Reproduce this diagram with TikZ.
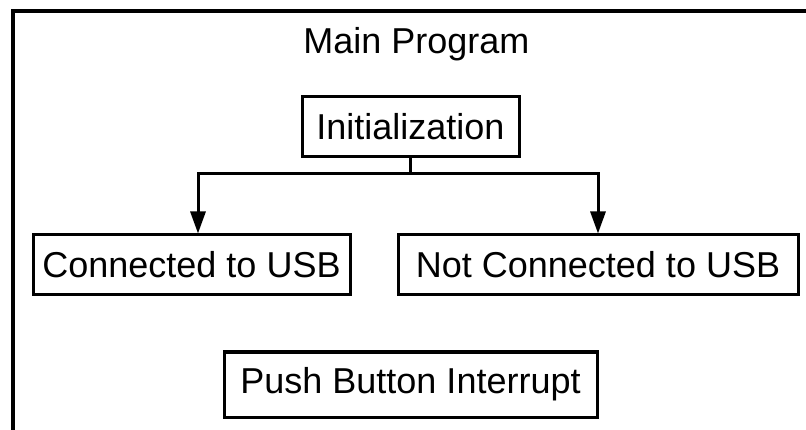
\documentclass[tikz,border=0pt]{standalone}
\usepackage{fontspec}
\setmainfont{Liberation Sans}
\usetikzlibrary{arrows.meta}
\begin{document}
\begin{tikzpicture}[x=1pt,y=-1pt,
  blk/.style={draw,line width=3pt,inner sep=0pt,minimum height=60pt,font=\fontsize{36}{40}\selectfont},
  conn/.style={line width=3pt},
  arr/.style={conn,-{Triangle[length=22pt,width=15pt]}}]
\useasboundingbox (0,0) rectangle (806,430);
\draw[line width=3.5pt] (13,430) -- (13,11) -- (806,11);
\node[font=\fontsize{36}{40}\selectfont] (title) at (416.5,44) {Main Program};
\node[blk,minimum width=217pt] (init) at (410.5,127) {Initialization};
\node[blk,minimum width=317pt] (usb) at (191.5,265) {Connected to USB};
\node[blk,minimum width=400pt] (nousb) at (598,265) {Not Connected to USB};
\node[blk,minimum width=373pt,minimum height=65pt] (push) at (410.5,384.5) {Push Button Interrupt};
\coordinate (jl) at (198,174);
\coordinate (jr) at (598,174);
\draw[conn] (init.south) -- (init.south |- jl);
\draw[arr] (init.south |- jl) -- (jl) -- (jl |- usb.north);
\draw[arr] (init.south |- jr) -- (jr) -- (jr |- nousb.north);
\end{tikzpicture}
\end{document}
